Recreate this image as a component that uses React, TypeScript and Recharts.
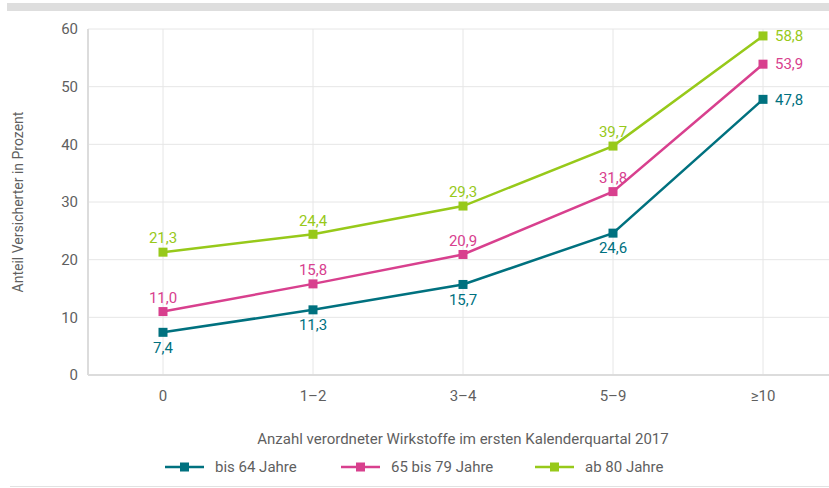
import React from 'react';
import { LineChart, Line, XAxis, YAxis, CartesianGrid, LabelList } from 'recharts';

const categories = ['0', '1–2', '3–4', '5–9', '≥10'];
const bis64 = [7.4, 11.3, 15.7, 24.6, 47.8];
const von65bis79 = [11.0, 15.8, 20.9, 31.8, 53.9];
const ab80 = [21.3, 24.4, 29.3, 39.7, 58.8];
const yTicks = [0, 10, 20, 30, 40, 50, 60];

const TEAL = '#00717f';
const PINK = '#d8408e';
const GREEN = '#97c91a';
const TEXT = '#5f5f5f';
const FONT = 'Roboto, "Noto Sans", sans-serif';

const rows = categories.map((c, i) => ({
  cat: c,
  bis64: bis64[i],
  mid: von65bis79[i],
  ab80: ab80[i],
}));

const series = [
  { key: 'bis64', name: 'bis 64 Jahre', color: TEAL, below: true },
  { key: 'mid', name: '65 bis 79 Jahre', color: PINK, below: false },
  { key: 'ab80', name: 'ab 80 Jahre', color: GREEN, below: false },
];

const fmt = (v: number) => v.toFixed(1).replace('.', ',');

function SquareDot(props: any) {
  const { cx, cy, stroke } = props;
  if (cx == null || cy == null) return null;
  return <rect x={cx - 4.5} y={cy - 4.5} width={9} height={9} fill={stroke} />;
}

function makeLabel(color: string, below: boolean) {
  return (props: any) => {
    const { x, y, value, index } = props;
    const last = index === categories.length - 1;
    if (last) {
      return (
        <text x={x + 12} y={y} dy="0.35em" fill={color} fontSize={15} fontFamily={FONT} textAnchor="start">
          {fmt(Number(value))}
        </text>
      );
    }
    return (
      <text x={x} y={below ? y + 15 : y - 14} dy="0.35em" fill={color} fontSize={15} fontFamily={FONT} textAnchor="middle">
        {fmt(Number(value))}
      </text>
    );
  };
}

export default function App() {
  return (
    <div style={{ position: 'absolute', left: 0, top: 0, width: 829, height: 488, overflow: 'hidden', background: '#fff', fontFamily: FONT }}>
      <div style={{ position: 'absolute', left: 7, top: 3, width: 822, height: 8, background: '#dedede' }} />
      <div style={{ position: 'absolute', left: 10, top: 486, width: 819, height: 1, background: '#e2e2e2' }} />
      <LineChart width={850} height={488} data={rows} margin={{ top: 29, right: 12, left: 0, bottom: 0 }}>
        <CartesianGrid stroke="#e6e6e6" strokeWidth={1} />
        <XAxis
          dataKey="cat"
          height={113}
          padding={{ left: 75, right: 75 }}
          stroke="#dcdcdc"
          strokeWidth={2}
          tickLine={false}
          tickSize={0}
          tickMargin={15}
          tick={{ fill: TEXT, fontSize: 15, fontFamily: FONT }}
          label={{ value: 'Anzahl verordneter Wirkstoffe im ersten Kalenderquartal 2017', position: 'insideBottom', offset: 44, fill: TEXT, fontSize: 15, fontFamily: FONT }}
        />
        <YAxis
          width={88}
          domain={[0, 60]}
          ticks={yTicks}
          stroke="#dcdcdc"
          strokeWidth={2}
          tickLine={false}
          tickSize={0}
          tickMargin={10}
          tick={{ fill: TEXT, fontSize: 15, fontFamily: FONT }}
          label={{ value: 'Anteil Versicherter in Prozent', angle: -90, position: 'insideLeft', offset: 18, fill: TEXT, fontSize: 14, fontFamily: FONT, style: { textAnchor: 'middle' } }}
        />
        {series.map((s) => (
          <Line
            key={s.key}
            dataKey={s.key}
            name={s.name}
            stroke={s.color}
            strokeWidth={2.5}
            type="linear"
            dot={<SquareDot />}
            activeDot={false}
            isAnimationActive={false}
          >
            <LabelList dataKey={s.key} content={makeLabel(s.color, s.below)} />
          </Line>
        ))}
      </LineChart>
      <div style={{ position: 'absolute', left: 0, top: 457, width: 829, height: 20 }}>
        {series.map((s, i) => (
          <div key={s.key} style={{ position: 'absolute', left: [165, 341, 535][i], top: 0, height: 20, display: 'flex', alignItems: 'center', whiteSpace: 'nowrap' }}>
            <svg width={39} height={20}>
              <line x1={0} y1={10} x2={39} y2={10} stroke={s.color} strokeWidth={2.5} />
              <rect x={15} y={5.5} width={9} height={9} fill={s.color} />
            </svg>
            <span style={{ marginLeft: 11, fontSize: 15, color: TEXT }}>{s.name}</span>
          </div>
        ))}
      </div>
    </div>
  );
}
